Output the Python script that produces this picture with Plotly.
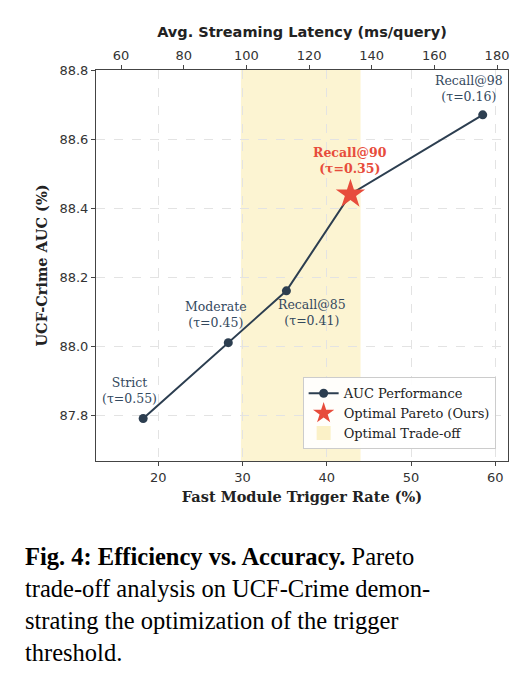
import plotly.graph_objects as go

# Data
trigger_rate = [18.2, 28.3, 35.2, 42.8, 58.5]
auc = [87.79, 88.01, 88.16, 88.44, 88.67]
point_labels = ["Strict<br>(τ=0.55)", "Moderate<br>(τ=0.45)", "Recall@85<br>(τ=0.41)",
                "Recall@90<br>(τ=0.35)", "Recall@98<br>(τ=0.16)"]
optimal_idx = 3
tradeoff_span = [29.8, 44.0]
latency_range = [52, 183.5]

SERIF = "DejaVu Serif"
navy = "#2c3e50"
red = "#e74c3c"

fig = go.Figure()

# shaded trade-off region
fig.add_vrect(x0=tradeoff_span[0], x1=tradeoff_span[1], fillcolor="#fbf1c7",
              opacity=0.8, line_width=0, layer="below")

fig.add_trace(go.Scatter(x=trigger_rate, y=auc, mode="lines+markers", name="AUC Performance",
                         line=dict(color=navy, width=2), marker=dict(size=9, color=navy)))
fig.add_trace(go.Scatter(x=[trigger_rate[optimal_idx]], y=[auc[optimal_idx]], mode="markers",
                         name="Optimal Pareto (Ours)",
                         marker=dict(symbol="star", size=22, color=red, line=dict(width=0))))
fig.add_trace(go.Scatter(x=[None], y=[None], mode="markers", name="Optimal Trade-off",
                         marker=dict(symbol="square", size=14, color="#fbf1c7")))
# invisible trace so the top axis is drawn
fig.add_trace(go.Scatter(x=latency_range, y=[auc[0], auc[0]], xaxis="x2", mode="markers",
                         marker=dict(opacity=0), showlegend=False, hoverinfo="skip"))

offsets = [(-14, 28), (-12, 28), (26, -22), (0, 34), (-14, 26)]
for i, (x, y) in enumerate(zip(trigger_rate, auc)):
    opt = i == optimal_idx
    txt = f"<b>{point_labels[i]}</b>" if opt else point_labels[i]
    fig.add_annotation(x=x, y=y, text=txt, showarrow=False, xshift=offsets[i][0],
                       yshift=offsets[i][1],
                       font=dict(family=SERIF, size=12.5, color=red if opt else "#34495e"))

# caption
caption = ["<b>Fig. 4: Efficiency vs. Accuracy.</b> Pareto",
           "trade-off analysis on UCF-Crime demon-",
           "strating the optimization of the trigger",
           "threshold."]
for k, line in enumerate(caption):
    fig.add_annotation(xref="paper", yref="paper", x=(15 - 88) / 412,
                       y=-(548 + 32 * k - 453) / 391, text=line, showarrow=False,
                       xanchor="left", yanchor="middle",
                       font=dict(family="Liberation Serif", size=24.5, color="black"))

axis_common = dict(showgrid=True, gridcolor="#e3e3e3", griddash="dash", zeroline=False,
                   showline=True, linecolor="#444", mirror=False, ticks="outside",
                   ticklen=4, tickcolor="#444", automargin=False,
                   tickfont=dict(family="DejaVu Sans", size=13, color="#333"))

fig.update_layout(
    width=529, height=681, plot_bgcolor="white", paper_bgcolor="white",
    margin=dict(l=88, r=29, t=62, b=228),
    font=dict(family=SERIF, color="#222"),
    xaxis=dict(axis_common, range=[12.6, 61.5], dtick=10, mirror=True,
               title=dict(text="<b>Fast Module Trigger Rate (%)</b>", font=dict(size=14.5),
                          standoff=8)),
    xaxis2=dict(axis_common, range=latency_range, tick0=60, dtick=20, overlaying="x",
                side="top", showgrid=False,
                title=dict(text="<b>Avg. Streaming Latency (ms/query)</b>",
                           font=dict(family="DejaVu Sans", size=14.5), standoff=6)),
    yaxis=dict(axis_common, range=[87.667, 88.8], dtick=0.2, tickformat=".1f", mirror=True,
               title=dict(text="<b>UCF-Crime AUC (%)</b>", font=dict(size=14.5), standoff=8)),
    legend=dict(x=0.97, y=0.03, xanchor="right", yanchor="bottom",
                bgcolor="rgba(255,255,255,0.9)", bordercolor="#ccc", borderwidth=1,
                font=dict(family=SERIF, size=13), tracegroupgap=2),
    showlegend=True,
)

fig.write_html("out.html")
